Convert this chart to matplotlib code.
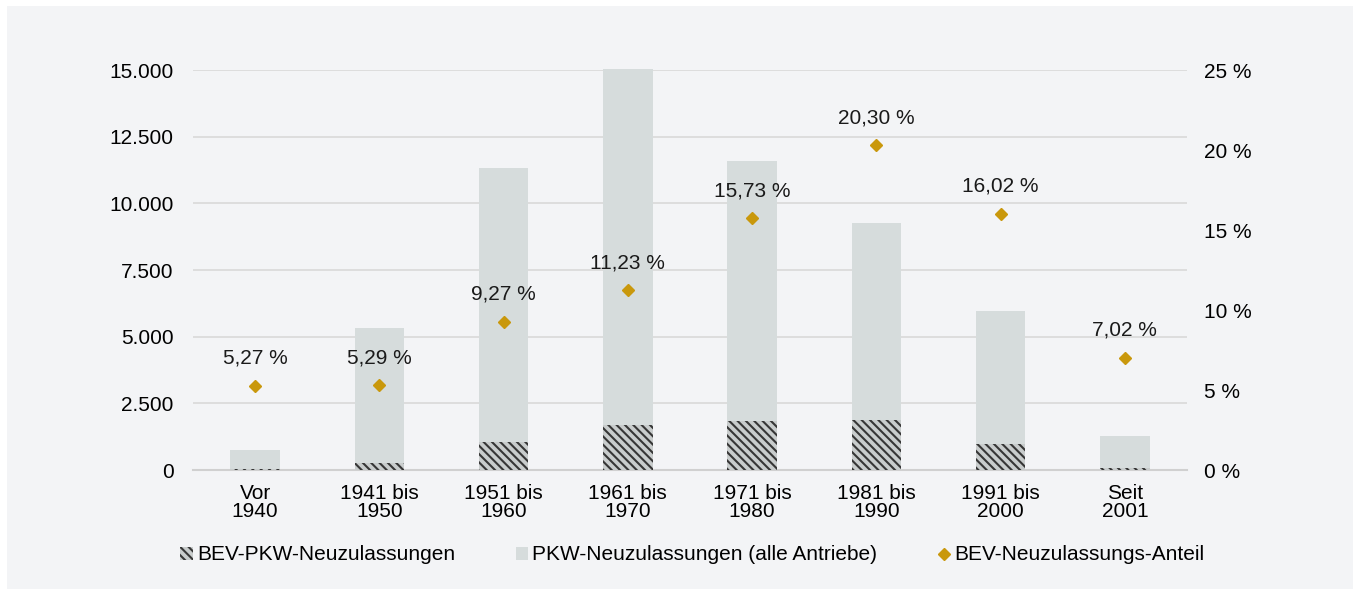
import matplotlib.pyplot as plt
from matplotlib.patches import Rectangle
from matplotlib.ticker import FuncFormatter

plt.rcParams["font.family"] = ["Liberation Sans", "DejaVu Sans"]
plt.rcParams["hatch.linewidth"] = 1.5

categories = ["Vor\n1940", "1941 bis\n1950", "1951 bis\n1960", "1961 bis\n1970",
              "1971 bis\n1980", "1981 bis\n1990", "1991 bis\n2000", "Seit\n2001"]
pkw_total = [760, 5320, 11320, 15030, 11600, 9250, 5980, 1270]
bev_pkw = [40, 281, 1049, 1690, 1825, 1878, 958, 89]
bev_share = [5.27, 5.29, 9.27, 11.23, 15.73, 20.30, 16.02, 7.02]

panel = "#f3f4f6"
bar_gray = "#d6dcdc"
gold = "#c9980c"
fs = 15

fig = plt.figure(figsize=(13.57, 5.91), dpi=100)
fig.patch.set_facecolor("white")
fig.patches.append(Rectangle((7 / 1357, 2 / 591), 1346 / 1357, 583 / 591,
                             transform=fig.transFigure, facecolor=panel,
                             edgecolor="none", zorder=-10))

ax = fig.add_axes([193 / 1357, 121 / 591, 994 / 1357, 400 / 591])
ax.set_facecolor("none")
x = list(range(len(categories)))

ax.bar(x, pkw_total, width=0.4, color=bar_gray, zorder=2, clip_on=False,
       label="PKW-Neuzulassungen (alle Antriebe)")
ax.bar(x, bev_pkw, width=0.4, facecolor="#c8cccc", edgecolor="#363636",
       linewidth=0, hatch="\\\\\\\\", zorder=3, label="BEV-PKW-Neuzulassungen")

ax.set_xlim(-0.5, 7.5)
ax.set_ylim(0, 15000)
ax.set_yticks(range(0, 15001, 2500))
ax.yaxis.set_major_formatter(FuncFormatter(lambda v, p: f"{int(v):,}".replace(",", ".")))
ax.grid(axis="y", color="#d9d9d9", linewidth=1.2, zorder=0)
ax.set_axisbelow(True)
for s in ["top", "right", "left"]:
    ax.spines[s].set_visible(False)
ax.spines["bottom"].set_color("#d0d0d0")
ax.spines["bottom"].set_linewidth(1.5)
ax.set_xticks(x)
ax.set_xticklabels(categories, fontsize=fs, linespacing=0.95)
ax.tick_params(axis="x", length=0, pad=10)
ax.tick_params(axis="y", length=0, pad=14, labelsize=fs)

ax2 = ax.twinx()
ax2.set_ylim(0, 25)
ax2.set_yticks(range(0, 26, 5))
ax2.yaxis.set_major_formatter(FuncFormatter(lambda v, p: f"{int(v)} %"))
ax2.tick_params(axis="y", length=0, pad=12, labelsize=fs)
for s in ax2.spines.values():
    s.set_visible(False)
ax2.plot(x, bev_share, linestyle="none", marker="D", markersize=6.5,
         color=gold, label="BEV-Neuzulassungs-Anteil", zorder=4)
for xi, v in zip(x, bev_share):
    ax2.annotate(f"{v:.2f} %".replace(".", ","), (xi, v), xytext=(0, 13),
                 textcoords="offset points", ha="center", va="bottom",
                 fontsize=fs, color="#1a1a1a")

h1, l1 = ax.get_legend_handles_labels()
h2, l2 = ax2.get_legend_handles_labels()
order = [1, 0]
handles = [h1[i] for i in order] + h2
labels = [l1[i] for i in order] + l2
fig.legend(handles, labels, loc="center",
           bbox_to_anchor=(0.5 + 14 / 1357, 1 - 555 / 591),
           ncol=3, frameon=False, fontsize=fs, handlelength=0.6,
           handleheight=0.6, handletextpad=0.2, columnspacing=2.9)

fig.savefig("out.png", dpi=100, facecolor=fig.get_facecolor())
